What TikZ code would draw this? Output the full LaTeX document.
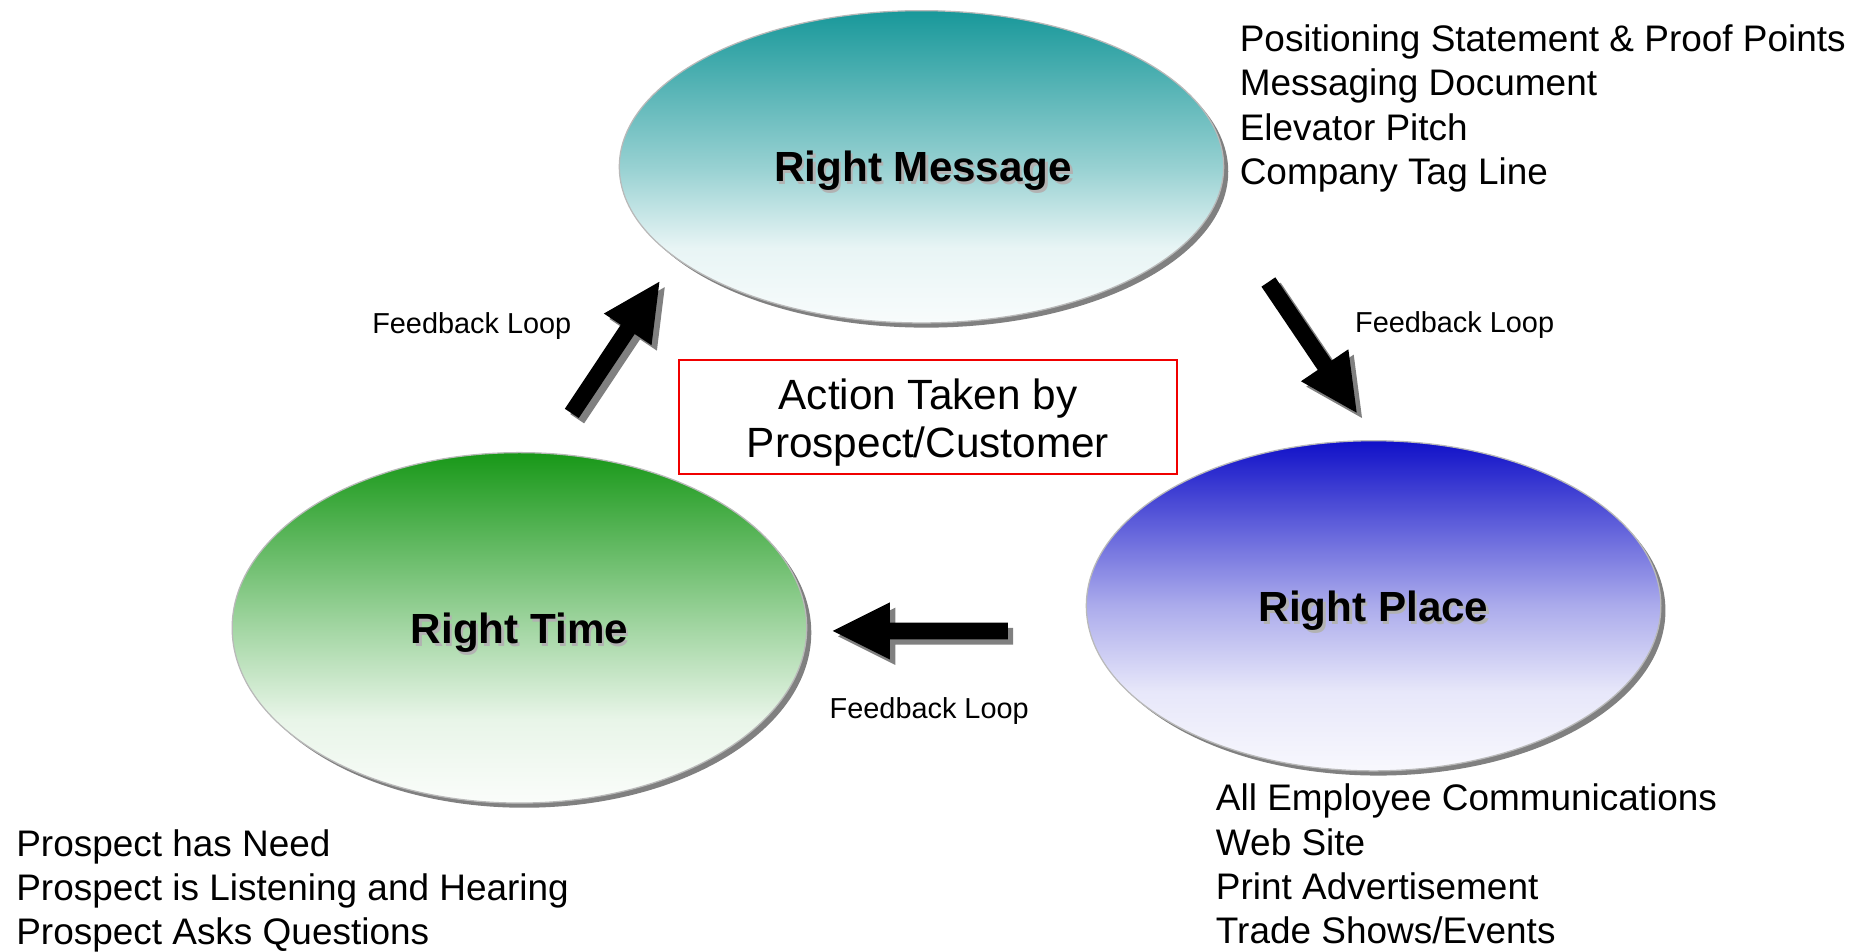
\documentclass[tikz,border=0pt]{standalone}
\usepackage{fontspec}
\setmainfont{Liberation Sans}
\usetikzlibrary{shapes.geometric,calc}
\definecolor{msgtop}{RGB}{24,152,154}
\definecolor{timetop}{RGB}{24,152,24}
\definecolor{placetop}{RGB}{16,16,200}
\definecolor{boxred}{RGB}{240,0,0}
\pgfdeclareverticalshading{msgshade}{100bp}{color(0bp)=(msgtop!3!white); color(25bp)=(msgtop!3!white); color(37bp)=(msgtop!10!white); color(50bp)=(msgtop!45!white); color(75bp)=(msgtop); color(100bp)=(msgtop)}
\pgfdeclareverticalshading{timeshade}{100bp}{color(0bp)=(timetop!2!white); color(25bp)=(timetop!2!white); color(37bp)=(timetop!10!white); color(50bp)=(timetop!40!white); color(75bp)=(timetop); color(100bp)=(timetop)}
\pgfdeclareverticalshading{placeshade}{100bp}{color(0bp)=(placetop!3!white); color(25bp)=(placetop!3!white); color(37bp)=(placetop!10!white); color(50bp)=(placetop!35!white); color(75bp)=(placetop); color(100bp)=(placetop)}
\newcommand\blkarrow[3][]{%
  \coordinate (bh) at ($(#3)!0.48cm!(#2)$);
  \path[#1] ($(#2)!0.07cm!90:(#3)$) -- ($(bh)!0.07cm!90:(#3)$) -- ($(bh)!0.24cm!90:(#3)$)
    -- (#3) -- ($(bh)!0.24cm!-90:(#3)$) -- ($(bh)!0.07cm!-90:(#3)$) -- ($(#2)!0.07cm!-90:(#3)$) -- cycle;}
\tikzset{
  bubble/.style={ellipse, draw=gray!55, line width=0.3pt, inner sep=0pt, shade},
  bubshadow/.style={fill=gray},
  listtext/.style={anchor=base west, inner sep=0pt, font=\fontsize{8.82pt}{10.6pt}\selectfont},
  fbtext/.style={anchor=base, inner sep=0pt, font=\fontsize{6.89pt}{8pt}\selectfont},
  bigtext/.style={anchor=base, inner sep=0pt, font=\fontsize{10.07pt}{12pt}\selectfont\bfseries},
  bigshadow/.style={bigtext, text=gray!60},
  boxtext/.style={anchor=base, inner sep=0pt, font=\fontsize{10.1pt}{12pt}\selectfont},
  actbox/.style={draw=boxred, line width=0.45pt},
  blk/.style={fill=black},
  blkshadow/.style={fill=gray},
}
\begin{document}
\begin{tikzpicture}[x=0.01cm,y=-0.01cm]
\useasboundingbox (0,0) rectangle (1568,799);
% shadows of the bubbles
\fill[bubshadow] (777.5,144) ellipse [x radius=253.5, y radius=131];
\fill[bubshadow] (440,531) ellipse [x radius=241, y radius=147];
\fill[bubshadow] (1157,512.5) ellipse [x radius=241, y radius=138.5];
% bubbles
\node[bubble, shading=msgshade, minimum width=5.07cm, minimum height=2.62cm] (msg) at (773.5,140) {};
\node[bubble, shading=timeshade, minimum width=4.82cm, minimum height=2.94cm] (time) at (436,527) {};
\node[bubble, shading=placeshade, minimum width=4.82cm, minimum height=2.77cm] (place) at (1153,508.5) {};
% bubble labels
\node[bigshadow] (msgls) at (777,154.5) {Right Message};
\node[bigtext] (msgl) at (775,152.5) {Right Message};
\node[bigshadow] (timels) at (438,542.5) {Right Time};
\node[bigtext] (timel) at (436,540.5) {Right Time};
\node[bigshadow] (placels) at (1155,524) {Right Place};
\node[bigtext] (placel) at (1153,522) {Right Place};
% central box
\node[actbox, minimum width=4.18cm, minimum height=0.96cm, inner sep=0pt] (act) at (779,350) {};
\node[boxtext] (act1) at (779,344) {Action Taken by};
\node[boxtext] (act2) at (779,384) {Prospect/Customer};
% arrows
\coordinate (a1t) at (480,347);
\coordinate (a1p) at (553.5,236.5);
\coordinate (a2t) at (1064.7,236.7);
\coordinate (a2p) at (1138.8,346.4);
\coordinate (a3t) at (846,529.6);
\coordinate (a3p) at (699,529.6);
\begin{scope}[transform canvas={shift={(0.045cm,-0.045cm)}}]
\blkarrow[blkshadow]{a1t}{a1p}
\blkarrow[blkshadow]{a2t}{a2p}
\blkarrow[blkshadow]{a3t}{a3p}
\end{scope}
\blkarrow[blk]{a1t}{a1p}
\blkarrow[blk]{a2t}{a2p}
\blkarrow[blk]{a3t}{a3p}
% feedback labels
\node[fbtext] (fb1) at (396,280) {Feedback Loop};
\node[fbtext] (fb2) at (1221,279) {Feedback Loop};
\node[fbtext] (fb3) at (780,603) {Feedback Loop};
% lists
\node[listtext] (m1) at (1040,43) {Positioning Statement \& Proof Points};
\node[listtext] (m2) at (1040,80) {Messaging Document};
\node[listtext] (m3) at (1040,118) {Elevator Pitch};
\node[listtext] (m4) at (1040,155) {Company Tag Line};
\node[listtext] (p1) at (1020,680) {All Employee Communications};
\node[listtext] (p2) at (1020,718) {Web Site};
\node[listtext] (p3) at (1020,755) {Print Advertisement};
\node[listtext] (p4) at (1020,792) {Trade Shows/Events};
\node[listtext] (t1) at (13,719) {Prospect has Need};
\node[listtext] (t2) at (13,756) {Prospect is Listening and Hearing};
\node[listtext] (t3) at (13,793) {Prospect Asks Questions};
\end{tikzpicture}
\end{document}
